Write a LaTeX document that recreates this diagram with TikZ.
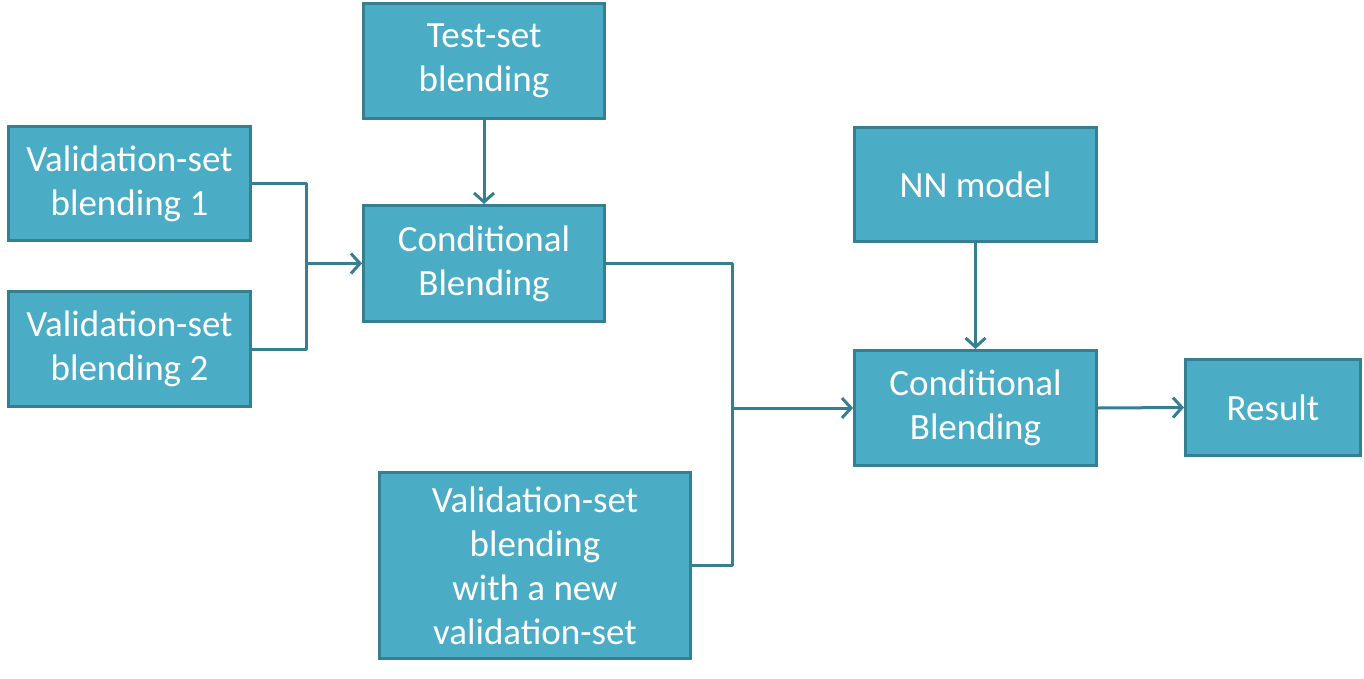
\documentclass[tikz,border=0pt]{standalone}
\usepackage{fontspec}
\setmainfont{Carlito}
\usetikzlibrary{arrows.meta}

\definecolor{boxfill}{HTML}{4BACC6}
\definecolor{boxline}{HTML}{367F91}

\tikzset{
  blk/.style={draw=boxline, fill=boxfill, line width=3pt, text=white, align=center,
    inner sep=0pt, font=\fontsize{37}{44}\selectfont},
  link/.style={draw=boxline, line width=3pt, line join=round},
  arr/.style={link, -{Straight Barb[length=9pt, width=20pt, line width=3pt]}}
}

\begin{document}
\begin{tikzpicture}[x=1pt, y=-1pt]
  \useasboundingbox (0,0) rectangle (1364,679);

  % blending boxes
  \node[blk, minimum width=241pt, minimum height=115pt] (test) at (484,61) {Test-set\\blending};
  \node[blk, minimum width=242pt, minimum height=114pt] (val1) at (129.5,183.5) {Validation-set\\blending 1};
  \node[blk, minimum width=242pt, minimum height=115pt] (val2) at (129.5,349) {Validation-set\\blending 2};
  \node[blk, minimum width=241pt, minimum height=116pt] (cond1) at (484,263.5) {Conditional\\Blending};
  \node[blk, minimum width=311pt, minimum height=186pt] (newval) at (535,565.5) {Validation-set\\blending\\with a new\\validation-set};
  \node[blk, minimum width=242pt, minimum height=114pt] (nn) at (975.5,184.5) {NN model};
  \node[blk, minimum width=242pt, minimum height=115pt] (cond2) at (975.5,408) {Conditional\\Blending};
  \node[blk, minimum width=175pt, minimum height=96pt] (result) at (1273,407.5) {Result};

  % junctions
  \coordinate (j1) at (306,263.5);
  \coordinate (j2) at (732,408);

  \draw[link] (val1.east) -| (j1) |- (val2.east);
  \draw[arr] (j1) -- (cond1.west);
  \draw[arr] (test.south) -- (cond1.north);
  \draw[link] (cond1.east) -| (j2) |- (newval.east);
  \draw[arr] (j2) -- (cond2.west);
  \draw[arr] (nn.south) -- (cond2.north);
  \draw[arr] (cond2.east) -- (result.west);
\end{tikzpicture}
\end{document}
